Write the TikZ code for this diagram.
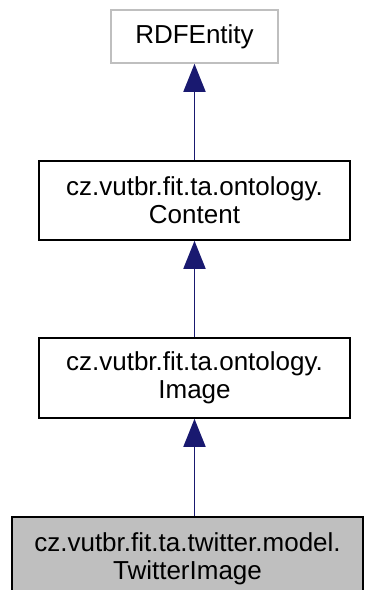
\documentclass[tikz,border=0pt]{standalone}
\usepackage{fontspec}
\setmainfont{Liberation Sans}
\usetikzlibrary{arrows.meta, positioning}
\definecolor{dxnavy}{HTML}{191970}
\definecolor{dxgray}{HTML}{BFBFBF}
\tikzset{
  classbox/.style={draw=black, line width=1.6pt, fill=white, align=center,
    inner sep=0pt, font=\fontsize{26}{28}\selectfont},
  extbox/.style={classbox, draw=dxgray},
  curbox/.style={classbox, fill=dxgray},
  inherit/.style={dxnavy, line width=1.8pt, {Triangle[length=28pt, width=22pt]}-}
}
\begin{document}
\begin{tikzpicture}[x=1pt, y=-1pt]
  \useasboundingbox (0,0) rectangle (365,590);

  % Class boxes
  \node[extbox, minimum width=167pt, minimum height=53pt] (rdf) at (194.5,36.5) {RDFEntity};
  \node[classbox, minimum width=311pt, minimum height=79pt] (content) at (194.5,200.5)
    {cz.vutbr.fit.ta.ontology.\\Content};
  \node[classbox, minimum width=311pt, minimum height=80pt] (image) at (194.5,378)
    {cz.vutbr.fit.ta.ontology.\\Image};
  \node[curbox, minimum width=351pt, minimum height=80pt, text depth=2pt] (twimage) at (187.5,557)
    {cz.vutbr.fit.ta.twitter.model.\\TwitterImage};

  % Inheritance arrows
  \draw[inherit] (rdf.south) -- (content.north);
  \draw[inherit] (content.south) -- (image.north);
  \draw[inherit] (image.south) -- (image.south |- twimage.north);
\end{tikzpicture}
\end{document}
